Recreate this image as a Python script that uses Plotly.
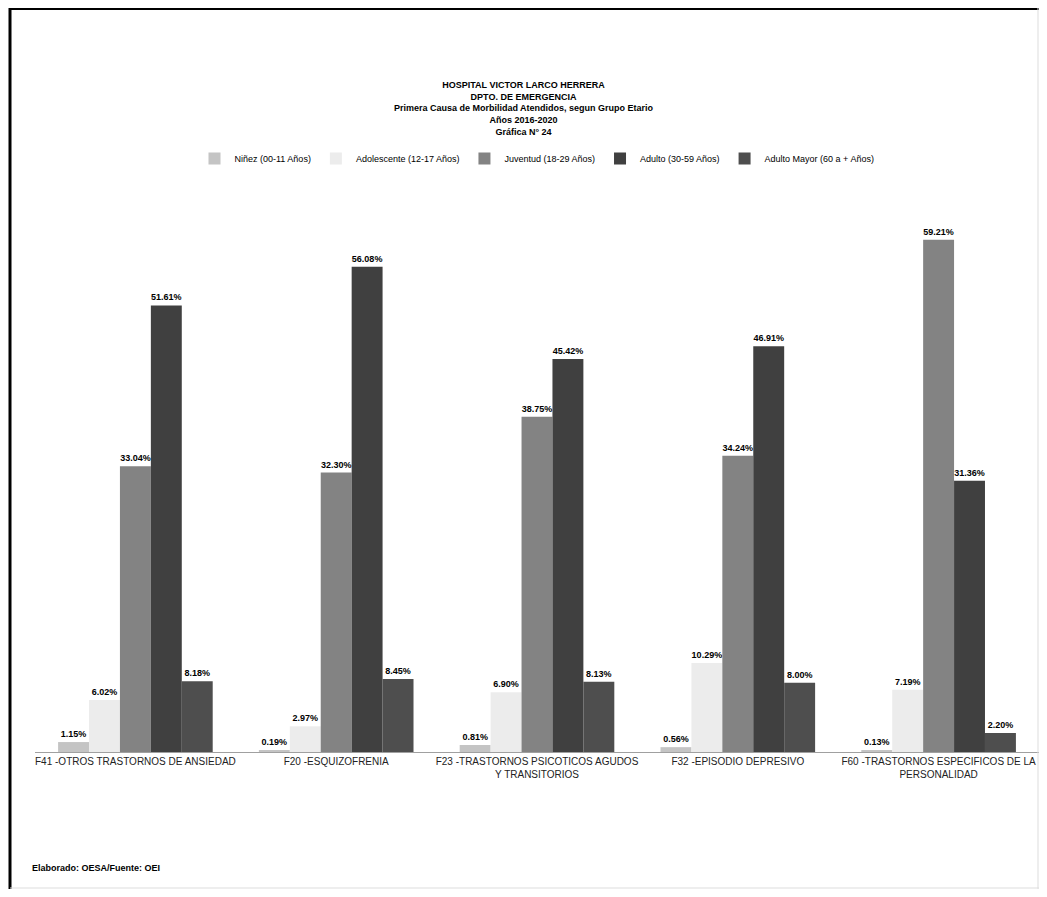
import plotly.graph_objects as go

# causas (eje x)
causas = [
    "F41 -OTROS TRASTORNOS DE ANSIEDAD",
    "F20 -ESQUIZOFRENIA",
    "F23 -TRASTORNOS PSICOTICOS AGUDOS<br>Y TRANSITORIOS",
    "F32 -EPISODIO DEPRESIVO",
    "F60 -TRASTORNOS ESPECIFICOS DE LA<br>PERSONALIDAD",
]

# porcentaje por grupo etario
ninez = [1.15, 0.19, 0.81, 0.56, 0.13]
adolescente = [6.02, 2.97, 6.90, 10.29, 7.19]
juventud = [33.04, 32.30, 38.75, 34.24, 59.21]
adulto = [51.61, 56.08, 45.42, 46.91, 31.36]
adulto_mayor = [8.18, 8.45, 8.13, 8.00, 2.20]

grupos = [
    ("Niñez (00-11 Años)", ninez, "#c4c4c4"),
    ("Adolescente (12-17 Años)", adolescente, "#ececec"),
    ("Juventud (18-29 Años)", juventud, "#838383"),
    ("Adulto (30-59 Años)", adulto, "#404040"),
    ("Adulto Mayor (60 a + Años)", adulto_mayor, "#4e4e4e"),
]

FONT = "Liberation Sans Narrow, Arial Narrow, Liberation Sans, Arial"
# the page body has an 8px margin, so the figure is 16px smaller than the window
W, H = 1031, 881
L, R, T, B = 27, 0, 192, 137

fig = go.Figure()
for nombre, vals, color in grupos:
    fig.add_trace(go.Bar(
        x=causas, y=vals, name=nombre,
        marker_color=color, marker_line_width=0,
        text=["<b>{:.2f}%</b>".format(v) for v in vals],
        textposition="outside",
        textfont=dict(size=9, color="black", family=FONT),
        cliponaxis=False,
    ))

def px_x(p):
    return (p - L) / (W - L - R)

def px_y(p):
    return (H - B - p) / (H - T - B)

# marco de la pagina escaneada
fig.add_shape(type="line", xref="paper", yref="paper",
              x0=px_x(2), x1=px_x(W), y0=px_y(0.5), y1=px_y(0.5),
              line=dict(color="black", width=3))
fig.add_shape(type="line", xref="paper", yref="paper",
              x0=px_x(2), x1=px_x(2), y0=px_y(0), y1=px_y(H),
              line=dict(color="black", width=3))
fig.add_shape(type="line", xref="paper", yref="paper",
              x0=px_x(W - 1), x1=px_x(W - 1), y0=px_y(0), y1=px_y(H),
              line=dict(color="#dddddd", width=1))
fig.add_shape(type="line", xref="paper", yref="paper",
              x0=px_x(2), x1=px_x(W), y0=px_y(H - 1), y1=px_y(H - 1),
              line=dict(color="#dddddd", width=1))

fig.add_annotation(
    text="<b>Elaborado: OESA/Fuente: OEI</b>",
    xref="paper", yref="paper", x=px_x(22), y=px_y(860),
    xanchor="left", yanchor="middle", showarrow=False,
    font=dict(size=9, color="black", family=FONT),
)

fig.update_layout(
    width=W, height=H,
    paper_bgcolor="white", plot_bgcolor="white",
    margin=dict(l=L, r=R, t=T, b=B),
    font=dict(family=FONT, color="black"),
    title=dict(
        text="<b>HOSPITAL VICTOR LARCO HERRERA<br>DPTO. DE EMERGENCIA<br>"
             "Primera Causa de Morbilidad Atendidos, segun Grupo Etario<br>"
             "Años 2016-2020<br>Gráfica N° 24</b>",
        x=0.5, xanchor="center", yref="container", y=1 - 80 / H, yanchor="top",
        font=dict(size=9, color="black", family=FONT),
    ),
    barmode="group", bargap=0.23, bargroupgap=0,
    showlegend=True,
    legend=dict(
        orientation="h", x=0.5, xanchor="center",
        yref="container", y=1 - 136 / H, yanchor="top",
        font=dict(size=9, color="black", family=FONT),
        itemwidth=30,
    ),
    xaxis=dict(
        showline=True, linecolor="#a0a0a0", linewidth=1,
        ticks="", tickfont=dict(size=10, color="#222222", family=FONT),
        showgrid=False,
    ),
    yaxis=dict(
        range=[0, 63.8], visible=False, showgrid=False,
    ),
)

fig.write_html("out.html")
